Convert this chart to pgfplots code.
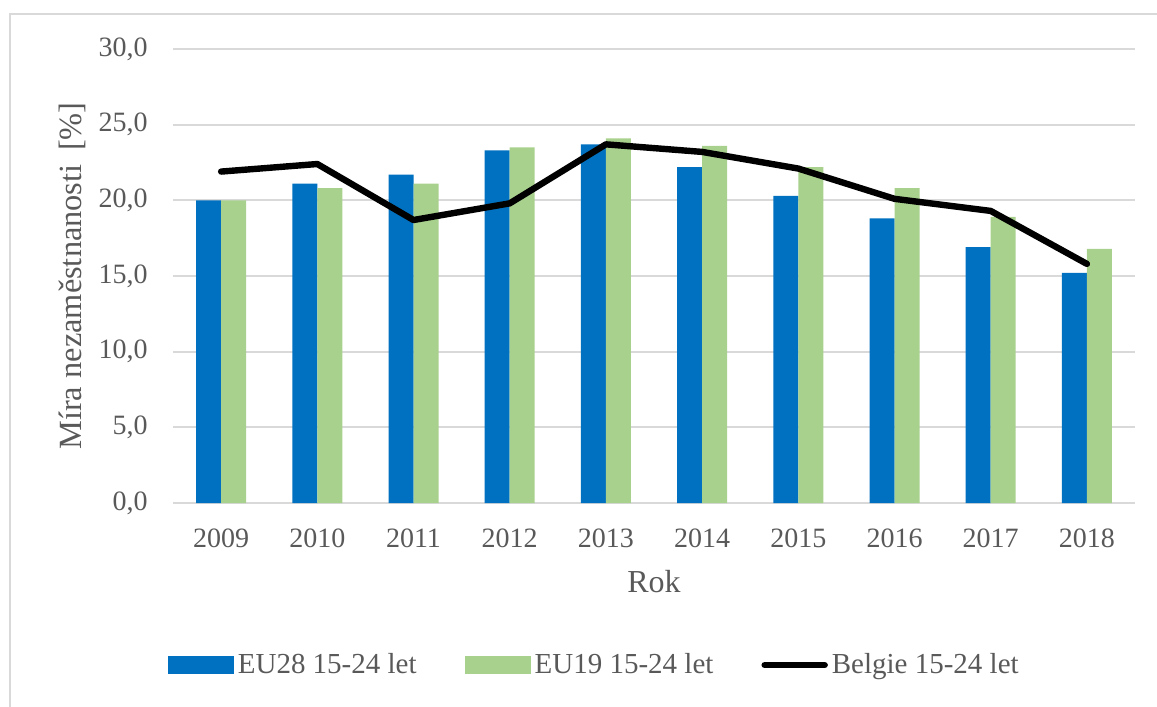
\documentclass[border=0pt]{standalone}
\usepackage{fontspec}
\setmainfont{Liberation Serif}
\usepackage{pgfplots}
\pgfplotsset{compat=1.18}
\definecolor{cblue}{HTML}{0070C0}
\definecolor{cgreen}{HTML}{A9D18E}
\definecolor{cgrid}{HTML}{D9D9D9}
\definecolor{ctext}{HTML}{595959}
\begin{document}
\begin{tikzpicture}
\path[use as bounding box] (0,0) rectangle (578.5pt,353.5pt);
\draw[cgrid, line width=1pt] (5pt,0) -- (5pt,346.5pt) -- (578.5pt,346.5pt);
\begin{axis}[
  at={(86.5pt,102pt)}, anchor=south west,
  scale only axis, width=481pt, height=227pt,
  xmin=-0.5, xmax=9.5, ymin=0, ymax=30,
  xtick={0,...,9},
  xticklabels={2009,2010,2011,2012,2013,2014,2015,2016,2017,2018},
  ytick={0,5,...,30},
  axis line style={draw=none},
  major tick length=0pt,
  ymajorgrids, grid style={cgrid, line width=1pt},
  /pgf/number format/.cd, fixed, fixed zerofill, precision=1, use comma, assume math mode=true,
  /pgfplots/.cd,
  tick label style={font=\fontsize{14}{16}\selectfont, text=ctext},
  xticklabel style={anchor=center, yshift=-17.5pt},
  yticklabel style={anchor=east, inner sep=0pt, xshift=-12.5pt},
  xlabel={Rok},
  xlabel style={at={(axis description cs:0.5,0)}, anchor=center, yshift=-39.5pt, font=\fontsize{16}{18}\selectfont, text=ctext},
  ylabel={Míra nezaměstnanosti\, [\%]},
  ylabel style={at={(axis description cs:0,0.5)}, anchor=center, yshift=50.5pt, font=\fontsize{16.2}{18}\selectfont, text=ctext},
  legend style={at={(axis description cs:-0.012,-0.357)}, anchor=west, draw=none, fill=none,
    legend columns=3, font=\fontsize{14.5}{16}\selectfont, text=ctext,
    /tikz/every even column/.append style={column sep=22pt}},
]
\addplot[ybar, bar width=12.5pt, bar shift=-6.25pt, fill=cblue, draw=none,
  legend image code/.code={\fill[cblue] (0pt,-4.5pt) rectangle (33pt,4.5pt);}]
  coordinates {(0,20.0) (1,21.1) (2,21.7) (3,23.3) (4,23.7) (5,22.2) (6,20.3) (7,18.8) (8,16.9) (9,15.2)};
\addlegendentry{EU28 15-24 let}
\addplot[ybar, bar width=12.5pt, bar shift=6.25pt, fill=cgreen, draw=none,
  legend image code/.code={\fill[cgreen] (0pt,-4.5pt) rectangle (33pt,4.5pt);}]
  coordinates {(0,20.0) (1,20.8) (2,21.1) (3,23.5) (4,24.1) (5,23.6) (6,22.2) (7,20.8) (8,18.9) (9,16.8)};
\addlegendentry{EU19 15-24 let}
\addplot[black, line width=3.2pt, line join=round, line cap=round, mark=none,
  legend image code/.code={\draw[black, line width=3.2pt, line cap=round] (1.5pt,0pt) -- (31.5pt,0pt);}]
  coordinates {(0,21.9) (1,22.4) (2,18.7) (3,19.8) (4,23.7) (5,23.2) (6,22.1) (7,20.1) (8,19.3) (9,15.8)};
\addlegendentry{Belgie 15-24 let}
\end{axis}
\end{tikzpicture}
\end{document}
